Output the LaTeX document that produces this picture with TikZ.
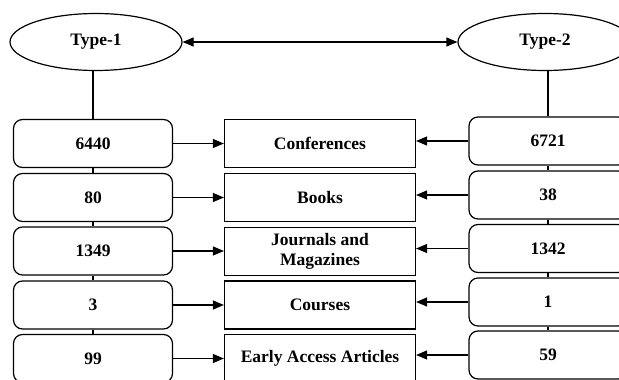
\documentclass[tikz,border=0pt]{standalone}
\usepackage{fontspec}
\setmainfont{Liberation Serif}
\usetikzlibrary{arrows.meta,shapes.geometric}
\begin{document}
\begin{tikzpicture}[x=1pt,y=-1pt,
  every node/.style={font=\fontsize{17.5}{19.5}\selectfont\bfseries},
  typ/.style={draw,ellipse,minimum width=172pt,minimum height=57pt,inner sep=0pt,line width=1.2pt},
  cnt/.style={draw,rounded corners=9pt,minimum height=48pt,inner sep=0pt,line width=1.2pt},
  cat/.style={draw,rectangle,minimum width=191pt,minimum height=48pt,inner sep=0pt,line width=1.2pt,align=center},
  arr/.style={-{Triangle[length=11pt,width=9pt]},line width=1.2pt},
  darr/.style={{Triangle[length=11pt,width=9pt]}-{Triangle[length=11pt,width=9pt]},line width=1.2pt},
  lnk/.style={line width=1.2pt}]
\useasboundingbox (0,0) rectangle (619,380);
\clip (0,0) rectangle (619,380);
\node[typ] (t1) at (96,42) {Type-1};
\node[typ,minimum width=174pt] (t2) at (545,42) {Type-2};
\node[cnt,minimum width=159pt] (l1) at (93,143.5) {6440};
\node[cnt,minimum width=159pt] (l2) at (93,197.5) {80};
\node[cnt,minimum width=159pt] (l3) at (93,251) {1349};
\node[cnt,minimum width=159pt] (l4) at (93,305) {3};
\node[cnt,minimum width=159pt] (l5) at (93,358.5) {99};
\node[cat] (m1) at (320,143.5) {Conferences};
\node[cat] (m2) at (320,197.5) {Books};
\node[cat] (m3) at (320,251.5) {Journals and\\Magazines};
\node[cat] (m4) at (320,305) {Courses};
\node[cat] (m5) at (320,358.5) {Early Access Articles};
\node[cnt,minimum width=158pt] (r1) at (548,141) {6721};
\node[cnt,minimum width=158pt] (r2) at (548,195) {38};
\node[cnt,minimum width=158pt] (r3) at (548,248.5) {1342};
\node[cnt,minimum width=158pt] (r4) at (548,302) {1};
\node[cnt,minimum width=158pt] (r5) at (548,355) {59};
\draw[darr] (t1.east) -- (t2.west);
\draw[lnk] (t1.south -| l1.north) -- (l1.north);
\draw[lnk] (l1) -- (l2);
\draw[lnk] (l2) -- (l3);
\draw[lnk] (l3) -- (l4);
\draw[lnk] (l4) -- (l5);
\draw[lnk] (r1.north |- t2.south) -- (r1.north);
\draw[lnk] (r1) -- (r2);
\draw[lnk] (r2) -- (r3);
\draw[lnk] (r3) -- (r4);
\draw[lnk] (r4) -- (r5);
\foreach \i in {1,...,5}{
  \draw[arr] (l\i.east) -- (l\i.east -| m\i.west);
  \draw[arr] (r\i.west) -- (r\i.west -| m\i.east);
}
\end{tikzpicture}
\end{document}
